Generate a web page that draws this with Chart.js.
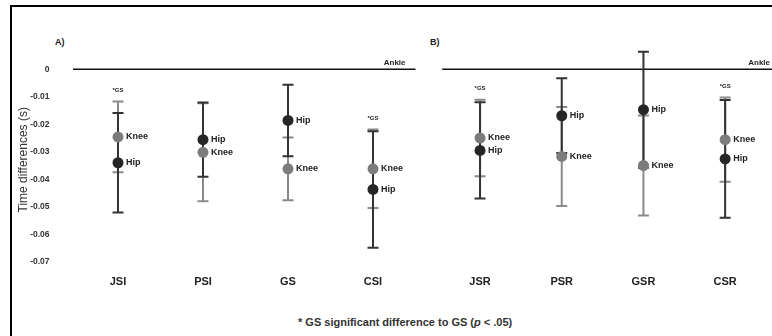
<!DOCTYPE html>
<html lang="en">
<head>
  <meta charset="UTF-8">
  <title>Time differences Knee / Hip</title>
  <script src="https://cdn.jsdelivr.net/npm/chart.js"></script>
  <style>
    body {
      margin: 0;
      background: #ffffff;
      font-family: "Liberation Sans", Arial, sans-serif;
      color: #222;
    }
    .frame {
      position: relative;
      width: 772px;
      height: 336px;
      overflow: hidden;
    }
    .border-top {
      position: absolute; left: 10px; top: 5px; width: 762px; height: 2px; background: #000;
    }
    .border-left {
      position: absolute; left: 10px; top: 5px; width: 2px; height: 331px; background: #000;
    }
    canvas { position: absolute; }
    #chartA { left: 12px; top: 8px; }
    #chartB { left: 425px; top: 8px; }
    .panel {
      position: absolute; font-weight: bold; font-size: 9px; color: #222;
    }
    .note {
      position: absolute; left: 298px; top: 316px; font-size: 11px; font-weight: bold; color: #333; white-space: nowrap;
    }
  </style>
</head>
<body>
  <div class="frame">
    <div class="border-top"></div>
    <div class="border-left"></div>
    <div class="panel" style="left:55px; top:37px;">A)</div>
    <div class="panel" style="left:430px; top:37px;">B)</div>
    <canvas id="chartA" width="410" height="300"></canvas>
    <canvas id="chartB" width="347" height="300"></canvas>
    <div class="note">* GS significant difference to GS (<i>p</i> &lt; .05)</div>
  </div>

  <script>
    // Panel A
    const categoriesA = ['JSI', 'PSI', 'GS', 'CSI'];
    const kneeMeanA = [-0.0246, -0.0302, -0.0362, -0.0362];
    const kneeSdA   = [0.0129, 0.0178, 0.0114, 0.0143];
    const hipMeanA  = [-0.0340, -0.0256, -0.0186, -0.0437];
    const hipSdA    = [0.0181, 0.0135, 0.0130, 0.0212];
    const sigA      = [true, false, false, true];

    // Panel B
    const categoriesB = ['JSR', 'PSR', 'GSR', 'CSR'];
    const kneeMeanB = [-0.0250, -0.0317, -0.0350, -0.0256];
    const kneeSdB   = [0.0139, 0.0180, 0.0182, 0.0153];
    const hipMeanB  = [-0.0295, -0.0169, -0.0147, -0.0326];
    const hipSdB    = [0.0175, 0.0136, 0.0211, 0.0214];
    const sigB      = [true, false, false, true];

    const yTickValues = [0, -0.01, -0.02, -0.03, -0.04, -0.05, -0.06, -0.07];
    const yTitle = 'Time differences (s)';

    const kneeColor = '#7c7c7c';
    const kneeBarColor = '#8a8a8a';
    const hipColor = '#262626';
    const hipBarColor = '#333333';

    // error bars, ankle line and labels
    const errorBarPlugin = {
      id: 'errorBars',
      beforeDatasetsDraw(chart, args, opts) {
        const ctx = chart.ctx;
        const y = chart.scales.y;
        const area = chart.chartArea;
        const y0 = y.getPixelForValue(0);

        // ankle reference line at 0
        ctx.save();
        ctx.strokeStyle = '#111';
        ctx.lineWidth = 1.5;
        ctx.beginPath();
        ctx.moveTo(area.left + opts.lineLeft, y0);
        ctx.lineTo(area.right + opts.lineRight, y0);
        ctx.stroke();
        ctx.fillStyle = '#222';
        ctx.font = 'bold 8px "Liberation Sans", Arial, sans-serif';
        ctx.textAlign = 'right';
        ctx.textBaseline = 'bottom';
        ctx.fillText('Ankle', area.right + opts.lineRight - opts.labelInset, y0 - 2);

        // y title, a bit lower than the default centre
        if (opts.title) {
          ctx.save();
          ctx.translate(12, (area.top + area.bottom) / 2 + 8);
          ctx.rotate(-Math.PI / 2);
          ctx.textAlign = 'center';
          ctx.textBaseline = 'middle';
          ctx.fillStyle = '#333';
          ctx.font = '12px "Liberation Sans", Arial, sans-serif';
          ctx.fillText(yTitle, 0, 0);
          ctx.restore();
        }

        chart.data.datasets.forEach((ds, i) => {
          const meta = chart.getDatasetMeta(i);
          ctx.strokeStyle = ds.barColor;
          ctx.lineWidth = 2;
          ds.data.forEach((m, j) => {
            const x = meta.data[j].x;
            const top = y.getPixelForValue(m + ds.sd[j]);
            const bot = y.getPixelForValue(m - ds.sd[j]);
            ctx.beginPath();
            ctx.moveTo(x, top); ctx.lineTo(x, bot);
            ctx.moveTo(x - 5.5, top); ctx.lineTo(x + 5.5, top);
            ctx.moveTo(x - 5.5, bot); ctx.lineTo(x + 5.5, bot);
            ctx.stroke();
          });
        });
        ctx.restore();
      },
      afterDatasetsDraw(chart, args, opts) {
        const ctx = chart.ctx;
        const y = chart.scales.y;
        ctx.save();
        ctx.fillStyle = '#222';
        ctx.textBaseline = 'middle';
        ctx.textAlign = 'left';
        ctx.font = 'bold 9px "Liberation Sans", Arial, sans-serif';
        chart.data.datasets.forEach((ds, i) => {
          const meta = chart.getDatasetMeta(i);
          ds.data.forEach((m, j) => {
            const pt = meta.data[j];
            ctx.fillText(ds.label, pt.x + 8, pt.y);
          });
        });
        // *GS marks above the highest cap
        ctx.textAlign = 'center';
        ctx.textBaseline = 'middle';
        ctx.font = 'bold 6px "Liberation Sans", Arial, sans-serif';
        const k = chart.data.datasets[0], h = chart.data.datasets[1];
        const meta = chart.getDatasetMeta(0);
        opts.sig.forEach((s, j) => {
          if (!s) return;
          const topVal = Math.max(k.data[j] + k.sd[j], h.data[j] + h.sd[j]);
          ctx.fillText('*GS', meta.data[j].x, y.getPixelForValue(topVal) - 11);
        });
        ctx.restore();
      }
    };

    function makeChart(id, labels, kneeMean, kneeSd, hipMean, hipSd, sig, showY, pad, line) {
      return new Chart(document.getElementById(id), {
        type: 'line',
        data: {
          labels: labels,
          datasets: [
            {
              label: 'Knee', data: kneeMean, sd: kneeSd, barColor: kneeBarColor,
              showLine: false, pointRadius: 5.5, pointBorderWidth: 0,
              pointBackgroundColor: kneeColor, borderColor: kneeColor
            },
            {
              label: 'Hip', data: hipMean, sd: hipSd, barColor: hipBarColor,
              showLine: false, pointRadius: 5.5, pointBorderWidth: 0,
              pointBackgroundColor: hipColor, borderColor: hipColor
            }
          ]
        },
        options: {
          responsive: false,
          animation: false,
          layout: { padding: pad },
          plugins: {
            legend: { display: false },
            tooltip: { enabled: false },
            errorBars: { sig: sig, lineLeft: line[0], lineRight: line[1], labelInset: line[2], title: showY }
          },
          scales: {
            x: {
              offset: true,
              grid: { display: false, offset: true },
              border: { display: false },
              ticks: {
                padding: 6,
                color: '#222',
                font: { family: '"Liberation Sans", Arial, sans-serif', size: 11, weight: 'bold' }
              },
              afterFit: (s) => { s.height = 46.3; }
            },
            y: {
              display: showY,
              min: -0.07,
              max: 0.01,
              grid: { display: false },
              border: { display: false },
              afterBuildTicks: (s) => { s.ticks = yTickValues.map(v => ({ value: v })); },
              ticks: {
                padding: 18,
                color: '#333',
                font: { family: '"Liberation Sans", Arial, sans-serif', size: 8.5, weight: 'bold' },
                callback: (v) => (v === 0 ? '0' : v.toFixed(2))
              },
              afterFit: (s) => { if (showY) s.width = 63.5; }
            }
          }
        },
        plugins: [errorBarPlugin]
      });
    }

    makeChart('chartA', categoriesA, kneeMeanA, kneeSdA, hipMeanA, hipSdA, sigA, true,
      { top: 33.8, bottom: 0, left: 0, right: 6.5 }, [-2.5, 0, 10]);
    makeChart('chartB', categoriesB, kneeMeanB, kneeSdB, hipMeanB, hipSdB, sigB, false,
      { top: 33.8, bottom: 0, left: 14.2, right: 6 }, [3, 6, 2]);
  </script>
</body>
</html>
